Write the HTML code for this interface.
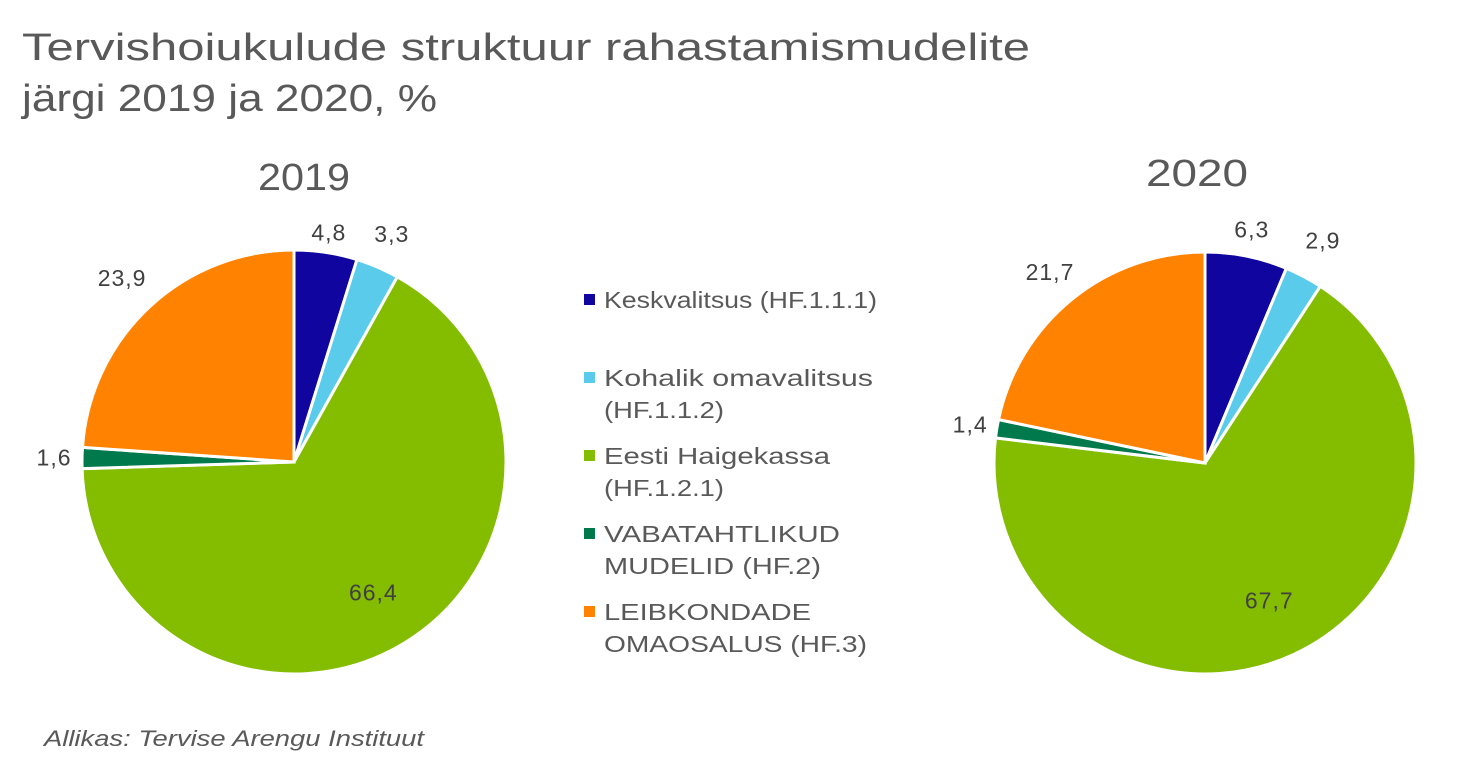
<!DOCTYPE html>
<html><head><meta charset="utf-8"><style>
body{margin:0;background:#fff;width:1474px;height:774px;overflow:hidden;font-family:"Liberation Sans",sans-serif;color:#595959}
svg{position:absolute;left:0;top:0}
</style></head><body>
<svg id="chart" width="1474" height="774">
<text x="22" y="60" font-size="38" textLength="1008" lengthAdjust="spacingAndGlyphs" fill="#595959">Tervishoiukulude struktuur rahastamismudelite</text>
<text x="22" y="111" font-size="38" textLength="415" lengthAdjust="spacingAndGlyphs" fill="#595959">järgi 2019 ja 2020, %</text>
<text x="258" y="190" font-size="38" textLength="92" lengthAdjust="spacingAndGlyphs" fill="#595959">2019</text>
<text x="1146" y="186" font-size="38" textLength="102" lengthAdjust="spacingAndGlyphs" fill="#595959">2020</text>
<text x="44" y="746" font-size="22" font-style="italic" textLength="380" lengthAdjust="spacingAndGlyphs" fill="#595959">Allikas: Tervise Arengu Instituut</text>
<g id="pies"></g>
<g id="legend"></g>
</svg>
<script>
const categories=["Keskvalitsus (HF.1.1.1)","Kohalik omavalitsus (HF.1.1.2)","Eesti Haigekassa (HF.1.2.1)","VABATAHTLIKUD MUDELID (HF.2)","LEIBKONDADE OMAOSALUS (HF.3)"];
const values2019=[4.8,3.3,66.4,1.6,23.9];
const values2020=[6.3,2.9,67.7,1.4,21.7];
const labels2019=["4,8","3,3","66,4","1,6","23,9"];
const labels2020=["6,3","2,9","67,7","1,4","21,7"];
const colors=["#10069f","#5bcbeb","#84bd00","#007a4d","#ff8200"];
const NS="http://www.w3.org/2000/svg";
const pies=document.getElementById('pies');
function pie(vals,labs,cx,cy,r,labR,name){
  const tot=vals.reduce((a,b)=>a+b,0);let a0=0;
  vals.forEach((v,i)=>{
    const a1=a0+v/tot*2*Math.PI;
    const x0=cx+r*Math.sin(a0),y0=cy-r*Math.cos(a0),x1=cx+r*Math.sin(a1),y1=cy-r*Math.cos(a1);
    const p=document.createElementNS(NS,'path');
    p.setAttribute('d',`M${cx},${cy}L${x0},${y0}A${r},${r} 0 ${a1-a0>Math.PI?1:0} 1 ${x1},${y1}Z`);
    p.setAttribute('fill',colors[i]);p.setAttribute('stroke','#fff');p.setAttribute('stroke-width','3');
    
    
    pies.appendChild(p);
    const m=(a0+a1)/2;
    const big=v>50;
    const lr=big?r*0.72:labR[i];
    const t=document.createElementNS(NS,'text');
    t.setAttribute('x',cx+lr*Math.sin(m));t.setAttribute('y',cy-lr*Math.cos(m)+8);
    t.setAttribute('text-anchor','middle');t.setAttribute('font-size','23');t.setAttribute('fill','#404040');
    t.setAttribute('letter-spacing','1');
    t.textContent=labs[i];
    
    
    pies.appendChild(t);
    a0=a1;
  });
}
pie(values2019,labels2019,294,462,212,[232,248,0,240,252],'pie-2019');
pie(values2020,labels2020,1205,463,211,[238,252,0,238,246],'pie-2020');
const lg=document.getElementById('legend');
const legendY=[[300],[378,410],[456,488],[534,566],[612,644]];
const legendLines=[["Keskvalitsus (HF.1.1.1)"],["Kohalik omavalitsus","(HF.1.1.2)"],["Eesti Haigekassa","(HF.1.2.1)"],["VABATAHTLIKUD","MUDELID (HF.2)"],["LEIBKONDADE","OMAOSALUS (HF.3)"]];
const legendW=[[273],[269,120],[226,120],[236,217],[207,263]];
categories.forEach((c,i)=>{
  const g=document.createElementNS(NS,'g');
  
  
  const s=document.createElementNS(NS,'rect');
  s.setAttribute('x',584);s.setAttribute('y',legendY[i][0]-6);s.setAttribute('width',11);s.setAttribute('height',11);s.setAttribute('fill',colors[i]);
  g.appendChild(s);
  legendLines[i].forEach((ln,j)=>{
    const t=document.createElementNS(NS,'text');
    t.setAttribute('x',604);t.setAttribute('y',legendY[i][j]+8);t.setAttribute('font-size','23');t.setAttribute('fill','#595959');
    t.setAttribute('textLength',legendW[i][j]);t.setAttribute('lengthAdjust','spacingAndGlyphs');
    t.textContent=ln;g.appendChild(t);
  });
  lg.appendChild(g);
});
</script>
</body></html>
